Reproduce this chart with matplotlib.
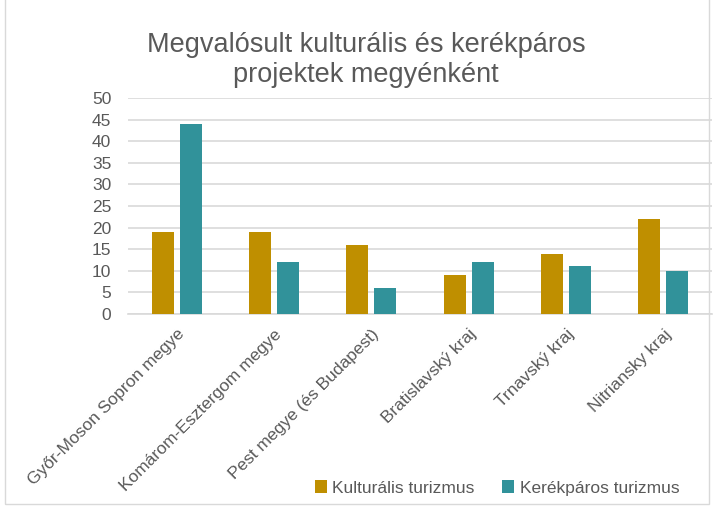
import numpy as np
import matplotlib.pyplot as plt
from matplotlib.patches import Rectangle

plt.rcParams['font.family'] = ['Liberation Sans', 'DejaVu Sans']

# chart data
regions = ['Győr-Moson Sopron megye', 'Komárom-Esztergom megye',
           'Pest megye (és Budapest)', 'Bratislavský kraj',
           'Trnavský kraj', 'Nitriansky kraj']
kulturalis = [19, 19, 16, 9, 14, 22]
kerekparos = [44, 12, 6, 12, 11, 10]
series_names = ['Kulturális turizmus', 'Kerékpáros turizmus']
y_ticks = list(range(0, 55, 5))

gold = '#BF8F00'
teal = '#31929A'
text_col = '#595959'

fig = plt.figure(figsize=(7.16, 5.07), dpi=100)
ax = fig.add_axes([128 / 716, 1 - 314 / 507, (712 - 128) / 716, (314 - 98) / 507])

x = np.arange(len(regions))
w = 0.225
off = 0.143
ax.bar(x - off, kulturalis, w, color=gold, label=series_names[0], zorder=3)
ax.bar(x + off, kerekparos, w, color=teal, label=series_names[1], zorder=3)

ax.set_xlim(-0.5, len(regions) - 0.5)
ax.set_ylim(0, 50)
ax.set_yticks(y_ticks)
ax.yaxis.grid(True, color='#D9D9D9', linewidth=1.2, zorder=0)
ax.set_axisbelow(True)
for s in ['top', 'right', 'left']:
    ax.spines[s].set_visible(False)
ax.spines['bottom'].set_color('#D9D9D9')
ax.spines['bottom'].set_linewidth(1.2)
ax.tick_params(axis='both', length=0, labelsize=12.5, colors=text_col)
ax.tick_params(axis='y', pad=12)
ax.set_xticks(x)
ax.set_xticklabels(regions, rotation=45, ha='right', rotation_mode='anchor')
ax.tick_params(axis='x', pad=9)

fig.text(366 / 716, 1 - 60 / 507, 'Megvalósult kulturális és kerékpáros\nprojektek megyénként',
         ha='center', va='center', fontsize=19.5, color=text_col, linespacing=1.2)

ax.legend(loc='center', bbox_to_anchor=(497 / 716, 1 - 488 / 507),
          bbox_transform=fig.transFigure, ncol=2, frameon=False,
          fontsize=12.5, labelcolor=text_col, handlelength=0.7, handleheight=0.7,
          handletextpad=0.3, columnspacing=1.6)

# light border of the chart area
fig.patches.append(Rectangle((5 / 716, 3 / 507), 704 / 716, 520 / 507,
                             transform=fig.transFigure, fill=False,
                             edgecolor='#D9D9D9', linewidth=1))

fig.savefig('out.png', dpi=100)
